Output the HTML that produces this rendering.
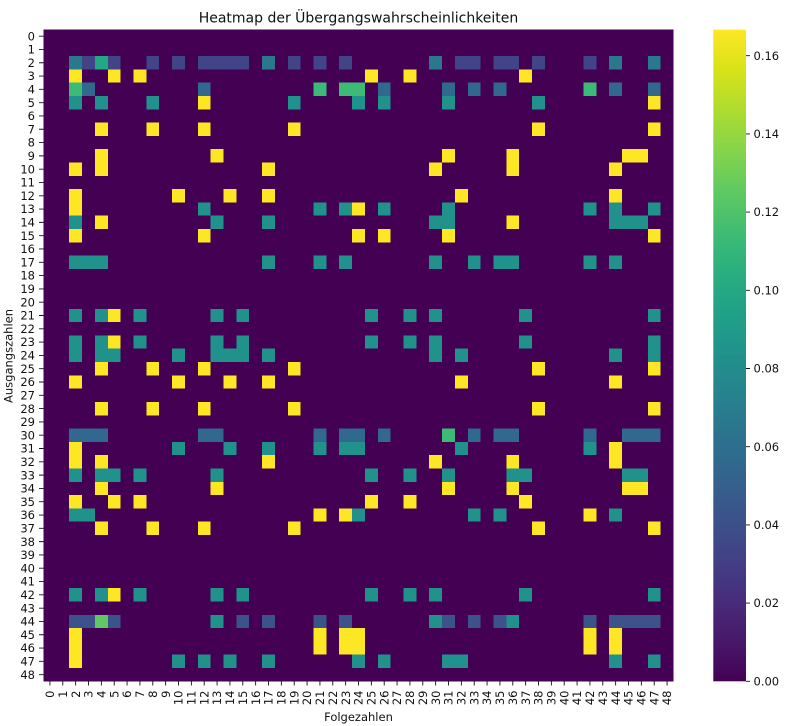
<!DOCTYPE html>
<html>
<head>
<meta charset="utf-8">
<style>
html,body{margin:0;padding:0;background:#fff;}
svg{display:block;}
text{font-family:"DejaVu Sans","Liberation Sans",sans-serif;fill:#111;}
.t{font-size:11.5px;}
</style>
</head>
<body>
<svg width="805" height="726" viewBox="0 0 805 726" xmlns="http://www.w3.org/2000/svg">
<defs>
<linearGradient id="vir" x1="0" y1="1" x2="0" y2="0">
<stop offset="0" stop-color="#440154"/>
<stop offset="0.0625" stop-color="#48186a"/>
<stop offset="0.125" stop-color="#472d7b"/>
<stop offset="0.1875" stop-color="#424086"/>
<stop offset="0.25" stop-color="#3b528b"/>
<stop offset="0.3125" stop-color="#33638d"/>
<stop offset="0.375" stop-color="#2c728e"/>
<stop offset="0.4375" stop-color="#26828e"/>
<stop offset="0.5" stop-color="#21918c"/>
<stop offset="0.5625" stop-color="#1fa088"/>
<stop offset="0.625" stop-color="#28ae80"/>
<stop offset="0.6875" stop-color="#3fbc73"/>
<stop offset="0.75" stop-color="#5ec962"/>
<stop offset="0.8125" stop-color="#84d44b"/>
<stop offset="0.875" stop-color="#addc30"/>
<stop offset="0.9375" stop-color="#d8e219"/>
<stop offset="1" stop-color="#fde725"/>
</linearGradient>
</defs>

<text x="358.5" y="22.7" text-anchor="middle" style="font-size:14px">Heatmap der Übergangswahrscheinlichkeiten</text>

<g transform="translate(43.5,29.5) scale(12.857,13.302)" shape-rendering="crispEdges">
<rect x="0" y="0" width="49" height="49" fill="#440154"/>
<path fill="#fde725" d="M2 3h1v1h-1zM5 3h1v1h-1zM7 3h1v1h-1zM25 3h1v1h-1zM28 3h1v1h-1zM37 3h1v1h-1z
M12 5h1v1h-1zM47 5h1v1h-1z
M4 7h1v1h-1zM8 7h1v1h-1zM12 7h1v1h-1zM19 7h1v1h-1zM38 7h1v1h-1zM47 7h1v1h-1z
M4 9h1v1h-1zM13 9h1v1h-1zM31 9h1v1h-1zM36 9h1v1h-1zM45 9h2v1h-2z
M2 10h1v1h-1zM4 10h1v1h-1zM17 10h1v1h-1zM30 10h1v1h-1zM36 10h1v1h-1zM44 10h1v1h-1z
M2 12h1v1h-1zM10 12h1v1h-1zM14 12h1v1h-1zM17 12h1v1h-1zM32 12h1v1h-1zM44 12h1v1h-1z
M2 13h1v1h-1zM24 13h1v1h-1z
M4 14h1v1h-1zM36 14h1v1h-1z
M2 15h1v1h-1zM12 15h1v1h-1zM24 15h1v1h-1zM26 15h1v1h-1zM31 15h1v1h-1zM47 15h1v1h-1z
M5 21h1v1h-1zM5 23h1v1h-1z
M4 25h1v1h-1zM8 25h1v1h-1zM12 25h1v1h-1zM19 25h1v1h-1zM38 25h1v1h-1zM47 25h1v1h-1z
M2 26h1v1h-1zM10 26h1v1h-1zM14 26h1v1h-1zM17 26h1v1h-1zM32 26h1v1h-1zM44 26h1v1h-1z
M4 28h1v1h-1zM8 28h1v1h-1zM12 28h1v1h-1zM19 28h1v1h-1zM38 28h1v1h-1zM47 28h1v1h-1z
M2 31h1v1h-1zM44 31h1v1h-1z
M2 32h1v1h-1zM4 32h1v1h-1zM17 32h1v1h-1zM30 32h1v1h-1zM36 32h1v1h-1zM44 32h1v1h-1z
M4 34h1v1h-1zM13 34h1v1h-1zM31 34h1v1h-1zM36 34h1v1h-1zM45 34h2v1h-2z
M2 35h1v1h-1zM5 35h1v1h-1zM7 35h1v1h-1zM25 35h1v1h-1zM28 35h1v1h-1zM37 35h1v1h-1z
M21 36h1v1h-1zM23 36h1v1h-1zM42 36h1v1h-1z
M4 37h1v1h-1zM8 37h1v1h-1zM12 37h1v1h-1zM19 37h1v1h-1zM38 37h1v1h-1zM47 37h1v1h-1z
M5 42h1v1h-1z
M2 45h1v2h-1zM21 45h1v2h-1zM23 45h2v2h-2zM42 45h1v2h-1zM44 45h1v2h-1z
M2 47h1v1h-1z"/>
<path fill="#21918c" d="M2 5h1v1h-1zM4 5h1v1h-1zM8 5h1v1h-1zM19 5h1v1h-1zM24 5h1v1h-1zM26 5h1v1h-1zM31 5h1v1h-1zM38 5h1v1h-1z
M12 13h1v1h-1zM21 13h1v1h-1zM23 13h1v1h-1zM26 13h1v1h-1zM31 13h1v1h-1zM42 13h1v1h-1zM44 13h1v1h-1zM47 13h1v1h-1z
M2 14h1v1h-1zM13 14h1v1h-1zM17 14h1v1h-1zM30 14h2v1h-2zM44 14h3v1h-3z
M2 17h3v1h-3zM17 17h1v1h-1zM21 17h1v1h-1zM23 17h1v1h-1zM30 17h1v1h-1zM33 17h1v1h-1zM35 17h2v1h-2zM42 17h1v1h-1zM44 17h1v1h-1z
M2 21h1v1h-1zM4 21h1v1h-1zM7 21h1v1h-1zM13 21h1v1h-1zM15 21h1v1h-1zM25 21h1v1h-1zM28 21h1v1h-1zM30 21h1v1h-1zM37 21h1v1h-1zM47 21h1v1h-1z
M2 23h1v1h-1zM4 23h1v1h-1zM7 23h1v1h-1zM13 23h1v1h-1zM15 23h1v1h-1zM25 23h1v1h-1zM28 23h1v1h-1zM30 23h1v1h-1zM37 23h1v1h-1zM47 23h1v1h-1z
M2 24h1v1h-1zM4 24h2v1h-2zM10 24h1v1h-1zM13 24h3v1h-3zM17 24h1v1h-1zM30 24h1v1h-1zM32 24h1v1h-1zM44 24h1v1h-1zM47 24h1v1h-1z
M10 31h1v1h-1zM14 31h1v1h-1zM17 31h1v1h-1zM21 31h1v1h-1zM23 31h2v1h-2zM32 31h1v1h-1zM42 31h1v1h-1z
M2 33h1v1h-1zM4 33h2v1h-2zM7 33h1v1h-1zM13 33h1v1h-1zM25 33h1v1h-1zM28 33h1v1h-1zM31 33h1v1h-1zM36 33h2v1h-2zM45 33h2v1h-2z
M2 36h2v1h-2zM24 36h1v1h-1zM33 36h1v1h-1zM35 36h1v1h-1zM44 36h1v1h-1z
M2 42h1v1h-1zM4 42h1v1h-1zM7 42h1v1h-1zM13 42h1v1h-1zM15 42h1v1h-1zM25 42h1v1h-1zM28 42h1v1h-1zM30 42h1v1h-1zM37 42h1v1h-1zM47 42h1v1h-1z
M13 44h1v1h-1zM30 44h1v1h-1zM36 44h1v1h-1z
M10 47h1v1h-1zM12 47h1v1h-1zM14 47h1v1h-1zM17 47h1v1h-1zM24 47h1v1h-1zM26 47h1v1h-1zM31 47h2v1h-2zM44 47h1v1h-1zM47 47h1v1h-1z"/>
<path fill="#2a788e" d="M2 2h1v1h-1zM17 2h1v1h-1zM30 2h1v1h-1zM44 2h1v1h-1zM47 2h1v1h-1z"/>
<path fill="#22a884" d="M4 2h1v1h-1z"/>
<path fill="#414487" d="M3 2h1v1h-1zM5 2h1v1h-1zM8 2h1v1h-1zM10 2h1v1h-1zM12 2h4v1h-4zM19 2h1v1h-1zM21 2h1v1h-1zM23 2h1v1h-1zM32 2h2v1h-2zM35 2h2v1h-2zM38 2h1v1h-1zM42 2h1v1h-1z"/>
<path fill="#3bbb75" d="M2 4h1v1h-1zM21 4h1v1h-1zM23 4h2v1h-2zM42 4h1v1h-1zM31 30h1v1h-1z"/>
<path fill="#31688e" d="M3 4h1v1h-1zM12 4h1v1h-1zM26 4h1v1h-1zM31 4h1v1h-1zM33 4h1v1h-1zM35 4h1v1h-1zM44 4h1v1h-1zM47 4h1v1h-1z
M2 30h3v1h-3zM12 30h2v1h-2zM21 30h1v1h-1zM23 30h2v1h-2zM26 30h1v1h-1zM33 30h1v1h-1zM35 30h2v1h-2zM42 30h1v1h-1zM45 30h3v1h-3z"/>
<path fill="#3b528b" d="M2 44h2v1h-2zM5 44h1v1h-1zM15 44h1v1h-1zM17 44h1v1h-1zM21 44h1v1h-1zM23 44h1v1h-1zM31 44h1v1h-1zM33 44h1v1h-1zM35 44h1v1h-1zM42 44h1v1h-1zM44 44h4v1h-4z"/>
<path fill="#5ec962" d="M4 44h1v1h-1z"/>
</g>

<!-- y ticks -->
<path stroke="#111" stroke-width="0.9" fill="none" d="M39 36.15H43.5M39 49.45H43.5M39 62.75H43.5M39 76.06H43.5M39 89.36H43.5M39 102.66H43.5M39 115.96H43.5M39 129.26H43.5M39 142.57H43.5M39 155.87H43.5M39 169.17H43.5M39 182.47H43.5M39 195.77H43.5M39 209.08H43.5M39 222.38H43.5M39 235.68H43.5M39 248.98H43.5M39 262.28H43.5M39 275.59H43.5M39 288.89H43.5M39 302.19H43.5M39 315.49H43.5M39 328.79H43.5M39 342.1H43.5M39 355.4H43.5M39 368.7H43.5M39 382H43.5M39 395.3H43.5M39 408.61H43.5M39 421.91H43.5M39 435.21H43.5M39 448.51H43.5M39 461.81H43.5M39 475.12H43.5M39 488.42H43.5M39 501.72H43.5M39 515.02H43.5M39 528.32H43.5M39 541.63H43.5M39 554.93H43.5M39 568.23H43.5M39 581.53H43.5M39 594.83H43.5M39 608.14H43.5M39 621.44H43.5M39 634.74H43.5M39 648.04H43.5M39 661.34H43.5M39 674.65H43.5"/>
<g class="t" text-anchor="end">
<text x="35" y="36.15" dy="0.36em">0</text>
<text x="35" y="49.45" dy="0.36em">1</text>
<text x="35" y="62.75" dy="0.36em">2</text>
<text x="35" y="76.06" dy="0.36em">3</text>
<text x="35" y="89.36" dy="0.36em">4</text>
<text x="35" y="102.66" dy="0.36em">5</text>
<text x="35" y="115.96" dy="0.36em">6</text>
<text x="35" y="129.26" dy="0.36em">7</text>
<text x="35" y="142.57" dy="0.36em">8</text>
<text x="35" y="155.87" dy="0.36em">9</text>
<text x="35" y="169.17" dy="0.36em">10</text>
<text x="35" y="182.47" dy="0.36em">11</text>
<text x="35" y="195.77" dy="0.36em">12</text>
<text x="35" y="209.08" dy="0.36em">13</text>
<text x="35" y="222.38" dy="0.36em">14</text>
<text x="35" y="235.68" dy="0.36em">15</text>
<text x="35" y="248.98" dy="0.36em">16</text>
<text x="35" y="262.28" dy="0.36em">17</text>
<text x="35" y="275.59" dy="0.36em">18</text>
<text x="35" y="288.89" dy="0.36em">19</text>
<text x="35" y="302.19" dy="0.36em">20</text>
<text x="35" y="315.49" dy="0.36em">21</text>
<text x="35" y="328.79" dy="0.36em">22</text>
<text x="35" y="342.1" dy="0.36em">23</text>
<text x="35" y="355.4" dy="0.36em">24</text>
<text x="35" y="368.7" dy="0.36em">25</text>
<text x="35" y="382" dy="0.36em">26</text>
<text x="35" y="395.3" dy="0.36em">27</text>
<text x="35" y="408.61" dy="0.36em">28</text>
<text x="35" y="421.91" dy="0.36em">29</text>
<text x="35" y="435.21" dy="0.36em">30</text>
<text x="35" y="448.51" dy="0.36em">31</text>
<text x="35" y="461.81" dy="0.36em">32</text>
<text x="35" y="475.12" dy="0.36em">33</text>
<text x="35" y="488.42" dy="0.36em">34</text>
<text x="35" y="501.72" dy="0.36em">35</text>
<text x="35" y="515.02" dy="0.36em">36</text>
<text x="35" y="528.32" dy="0.36em">37</text>
<text x="35" y="541.63" dy="0.36em">38</text>
<text x="35" y="554.93" dy="0.36em">39</text>
<text x="35" y="568.23" dy="0.36em">40</text>
<text x="35" y="581.53" dy="0.36em">41</text>
<text x="35" y="594.83" dy="0.36em">42</text>
<text x="35" y="608.14" dy="0.36em">43</text>
<text x="35" y="621.44" dy="0.36em">44</text>
<text x="35" y="634.74" dy="0.36em">45</text>
<text x="35" y="648.04" dy="0.36em">46</text>
<text x="35" y="661.34" dy="0.36em">47</text>
<text x="35" y="674.65" dy="0.36em">48</text>
</g>

<!-- x ticks -->
<path stroke="#111" stroke-width="0.9" fill="none" d="M49.93 681.3V685.5M62.79 681.3V685.5M75.64 681.3V685.5M88.5 681.3V685.5M101.36 681.3V685.5M114.21 681.3V685.5M127.07 681.3V685.5M139.93 681.3V685.5M152.79 681.3V685.5M165.64 681.3V685.5M178.5 681.3V685.5M191.36 681.3V685.5M204.21 681.3V685.5M217.07 681.3V685.5M229.93 681.3V685.5M242.79 681.3V685.5M255.64 681.3V685.5M268.5 681.3V685.5M281.36 681.3V685.5M294.21 681.3V685.5M307.07 681.3V685.5M319.93 681.3V685.5M332.79 681.3V685.5M345.64 681.3V685.5M358.5 681.3V685.5M371.36 681.3V685.5M384.21 681.3V685.5M397.07 681.3V685.5M409.93 681.3V685.5M422.79 681.3V685.5M435.64 681.3V685.5M448.5 681.3V685.5M461.36 681.3V685.5M474.21 681.3V685.5M487.07 681.3V685.5M499.93 681.3V685.5M512.79 681.3V685.5M525.64 681.3V685.5M538.5 681.3V685.5M551.36 681.3V685.5M564.21 681.3V685.5M577.07 681.3V685.5M589.93 681.3V685.5M602.79 681.3V685.5M615.64 681.3V685.5M628.5 681.3V685.5M641.36 681.3V685.5M654.21 681.3V685.5M667.07 681.3V685.5"/>
<g class="t" text-anchor="end">
<text transform="translate(49.93,690.5) rotate(-90)" dy="0.36em">0</text>
<text transform="translate(62.79,690.5) rotate(-90)" dy="0.36em">1</text>
<text transform="translate(75.64,690.5) rotate(-90)" dy="0.36em">2</text>
<text transform="translate(88.5,690.5) rotate(-90)" dy="0.36em">3</text>
<text transform="translate(101.36,690.5) rotate(-90)" dy="0.36em">4</text>
<text transform="translate(114.21,690.5) rotate(-90)" dy="0.36em">5</text>
<text transform="translate(127.07,690.5) rotate(-90)" dy="0.36em">6</text>
<text transform="translate(139.93,690.5) rotate(-90)" dy="0.36em">7</text>
<text transform="translate(152.79,690.5) rotate(-90)" dy="0.36em">8</text>
<text transform="translate(165.64,690.5) rotate(-90)" dy="0.36em">9</text>
<text transform="translate(178.5,690.5) rotate(-90)" dy="0.36em">10</text>
<text transform="translate(191.36,690.5) rotate(-90)" dy="0.36em">11</text>
<text transform="translate(204.21,690.5) rotate(-90)" dy="0.36em">12</text>
<text transform="translate(217.07,690.5) rotate(-90)" dy="0.36em">13</text>
<text transform="translate(229.93,690.5) rotate(-90)" dy="0.36em">14</text>
<text transform="translate(242.79,690.5) rotate(-90)" dy="0.36em">15</text>
<text transform="translate(255.64,690.5) rotate(-90)" dy="0.36em">16</text>
<text transform="translate(268.5,690.5) rotate(-90)" dy="0.36em">17</text>
<text transform="translate(281.36,690.5) rotate(-90)" dy="0.36em">18</text>
<text transform="translate(294.21,690.5) rotate(-90)" dy="0.36em">19</text>
<text transform="translate(307.07,690.5) rotate(-90)" dy="0.36em">20</text>
<text transform="translate(319.93,690.5) rotate(-90)" dy="0.36em">21</text>
<text transform="translate(332.79,690.5) rotate(-90)" dy="0.36em">22</text>
<text transform="translate(345.64,690.5) rotate(-90)" dy="0.36em">23</text>
<text transform="translate(358.5,690.5) rotate(-90)" dy="0.36em">24</text>
<text transform="translate(371.36,690.5) rotate(-90)" dy="0.36em">25</text>
<text transform="translate(384.21,690.5) rotate(-90)" dy="0.36em">26</text>
<text transform="translate(397.07,690.5) rotate(-90)" dy="0.36em">27</text>
<text transform="translate(409.93,690.5) rotate(-90)" dy="0.36em">28</text>
<text transform="translate(422.79,690.5) rotate(-90)" dy="0.36em">29</text>
<text transform="translate(435.64,690.5) rotate(-90)" dy="0.36em">30</text>
<text transform="translate(448.5,690.5) rotate(-90)" dy="0.36em">31</text>
<text transform="translate(461.36,690.5) rotate(-90)" dy="0.36em">32</text>
<text transform="translate(474.21,690.5) rotate(-90)" dy="0.36em">33</text>
<text transform="translate(487.07,690.5) rotate(-90)" dy="0.36em">34</text>
<text transform="translate(499.93,690.5) rotate(-90)" dy="0.36em">35</text>
<text transform="translate(512.79,690.5) rotate(-90)" dy="0.36em">36</text>
<text transform="translate(525.64,690.5) rotate(-90)" dy="0.36em">37</text>
<text transform="translate(538.5,690.5) rotate(-90)" dy="0.36em">38</text>
<text transform="translate(551.36,690.5) rotate(-90)" dy="0.36em">39</text>
<text transform="translate(564.21,690.5) rotate(-90)" dy="0.36em">40</text>
<text transform="translate(577.07,690.5) rotate(-90)" dy="0.36em">41</text>
<text transform="translate(589.93,690.5) rotate(-90)" dy="0.36em">42</text>
<text transform="translate(602.79,690.5) rotate(-90)" dy="0.36em">43</text>
<text transform="translate(615.64,690.5) rotate(-90)" dy="0.36em">44</text>
<text transform="translate(628.5,690.5) rotate(-90)" dy="0.36em">45</text>
<text transform="translate(641.36,690.5) rotate(-90)" dy="0.36em">46</text>
<text transform="translate(654.21,690.5) rotate(-90)" dy="0.36em">47</text>
<text transform="translate(667.07,690.5) rotate(-90)" dy="0.36em">48</text>
</g>

<text class="t" x="358.5" y="721" text-anchor="middle">Folgezahlen</text>
<text class="t" transform="translate(12.7,356) rotate(-90)" text-anchor="middle">Ausgangszahlen</text>

<!-- colorbar -->
<rect x="713.3" y="29.6" width="32.7" height="651.7" fill="url(#vir)"/>
<path stroke="#111" stroke-width="0.9" fill="none" d="M746 681.3H750M746 603.1H750M746 524.9H750M746 446.7H750M746 368.5H750M746 290.3H750M746 212.1H750M746 133.9H750M746 55.7H750"/>
<g class="t">
<text x="753.5" y="681.3" dy="0.36em">0.00</text>
<text x="753.5" y="603.1" dy="0.36em">0.02</text>
<text x="753.5" y="524.9" dy="0.36em">0.04</text>
<text x="753.5" y="446.7" dy="0.36em">0.06</text>
<text x="753.5" y="368.5" dy="0.36em">0.08</text>
<text x="753.5" y="290.3" dy="0.36em">0.10</text>
<text x="753.5" y="212.1" dy="0.36em">0.12</text>
<text x="753.5" y="133.9" dy="0.36em">0.14</text>
<text x="753.5" y="55.7" dy="0.36em">0.16</text>
</g>
</svg>
</body>
</html>
